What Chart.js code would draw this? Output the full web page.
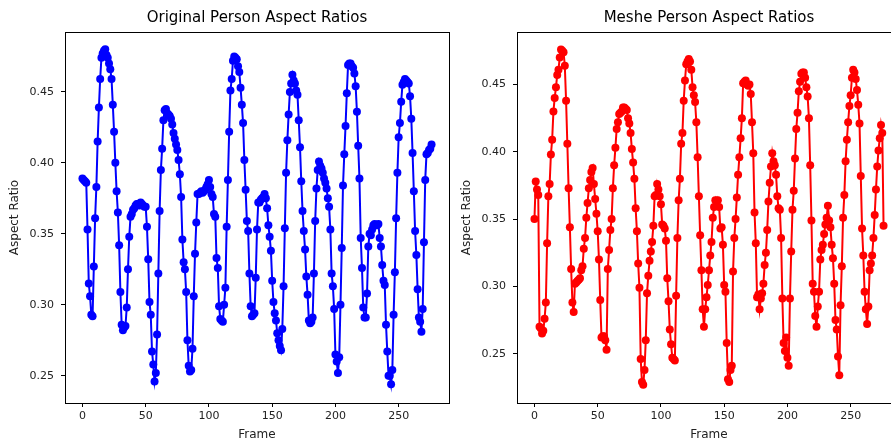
<!DOCTYPE html>
<html>
<head>
<meta charset="utf-8">
<script src="https://cdn.jsdelivr.net/npm/chart.js@4.4.1/dist/chart.umd.min.js"></script>
<style>
  html, body { margin: 0; padding: 0; background: #fff; }
  body { width: 891px; height: 445px; overflow: hidden; position: relative; }
  canvas { position: absolute; top: 0; }
  #left { left: 0; }
  #right { left: 452px; }
</style>
</head>
<body>
<canvas id="left" width="460" height="445"></canvas>
<canvas id="right" width="460" height="445"></canvas>
<script>
// data
const originalRatios = [
  .389,.388,.387,.386,.353,.315,.306,.293,.292,.327,
  .361,.383,.415,.439,.459,.474,.477,.479,.480,.476,
  .474,.470,.466,.459,.441,.422,.400,.380,.365,.342,
  .309,.286,.282,.284,.285,.298,.325,.348,.362,.364,
  .367,.368,.370,.371,.371,.370,.372,.371,.370,.369,
  .369,.355,.332,.302,.293,.267,.258,.246,.252,.279,
  .322,.366,.395,.410,.430,.437,.438,
  .435,.434,.433,.431,.427,.421,.417,.413,.409,.402,
  .392,.376,.346,.330,.325,.309,.275,.257,.253,.254,
  .269,.306,.336,.358,.378,.378,.379,.380,.379,.380,.381,
  .383,.385,.388,.383,.378,.376,.364,.362,.333,.326,
  .299,.290,.289,.288,.300,.312,.355,.388,.422,.451,
  .459,.472,.475,.474,.473,.468,.464,.453,.441,.428,
  .402,.381,.359,.352,.322,.299,.292,.293,.294,.319,
  .353,.372,.372,.374,.375,.376,.378,.375,.368,.356,.348,
  .338,.317,.302,.294,.289,.280,.275,.271,.268,.283,
  .313,.354,.393,.416,.434,.450,.456,.462,.458,.456,
  .451,.448,.430,.411,.387,.366,.352,.339,.320,.307,
  .289,.287,.288,.291,.322,.359,.382,.395,.401,.398,
  .396,.393,.389,.386,.382,.375,.369,.353,.322,.313,
  .297,.265,.260,.252,.263,.300,.340,.384,.406,.426,
  .449,.469,.470,.470,.468,.467,.463,.454,.436,.412,
  .389,.347,.326,.298,.291,.291,.308,.341,.350,.349,
  .353,.356,.357,.356,.356,.357,.347,.341,.328,.317,.314,
  .286,.267,.250,.250,.244,.254,.293,.323,.361,.393,
  .418,.428,.443,.455,.457,.459,.458,.457,.456,.447,
  .431,.407,.380,.352,.335,.311,.291,.288,.281,.297,
  .344,.388,.406,.407,.409,.410,.413
];

const mesheRatios = [
  .350,.378,.372,.368,.270,.269,.265,.267,.276,.288,
  .332,.367,.376,.398,.409,.430,.440,.448,.457,.461,
  .470,.476,.475,.474,.464,.438,.406,.373,.344,.313,
  .288,.281,.302,.303,.304,.305,.306,.312,.315,.328,
  .336,.351,.362,.373,.379,.385,.388,.376,.365,.354,
  .341,.320,.290,.262,.263,.263,.260,.253,.313,.327,
  .342,.350,.373,.390,.403,.417,.422,.428,.429,.430,
  .433,.433,.432,.431,.425,.421,.414,.402,.392,.380,
  .358,.341,.317,.299,.246,.229,.227,.238,.260,.295,
  .308,.319,.326,.333,.345,.367,.368,.376,.372,.367,
  .361,.346,.345,.343,.334,.306,.289,.268,.257,.247,
  .246,.245,.293,.336,.364,.380,.406,.414,.438,.453,
  .465,.467,.469,.467,.461,.448,.442,.437,.422,.396,
  .367,.338,.312,.283,.270,.283,.292,.301,.312,.323,
  .333,.351,.359,.364,.360,.364,.359,.343,.344,.331,
  .301,.296,.258,.231,.229,.238,.241,.311,.336,.350,
  .366,.383,.396,.410,.425,.451,.452,.453,.450,.449,
  .450,.443,.422,.399,.355,.332,.292,.294,.283,.291,
  .295,.302,.316,.325,.342,.363,.377,.389,.399,.393,
  .390,.383,.367,.358,.357,.336,.291,.258,.252,.262,
  .247,.241,.291,.326,.357,.371,.395,.417,.429,.445,
  .452,.458,.459,.459,.455,.448,.441,.425,.390,.349,
  .302,.296,.278,.270,.285,.296,.320,.327,.331,.339,
  .346,.351,.360,.349,.344,.331,.321,.302,.275,.268,
  .248,.234,.286,.315,.351,.368,.393,.409,.422,.434,
  .442,.455,.461,.459,.454,.446,.435,.421,.382,.343,
  .323,.296,.283,.272,.285,.312,.317,.323,.336,.353,
  .372,.389,.401,.410,.420,.414,.345
];

const frameTicks = [0, 50, 100, 150, 200, 250];
const ratioTicks = [0.25, 0.30, 0.35, 0.40, 0.45];

const FONT = "'DejaVu Sans', sans-serif";

// matplotlib style: box around the axes, title centred over the axes
const boxPlugin = {
  id: 'box',
  afterDraw(chart) {
    const { ctx, chartArea: a } = chart;
    ctx.save();
    ctx.strokeStyle = '#000';
    ctx.lineWidth = 1;
    ctx.strokeRect(Math.round(a.left) + 0.5, Math.round(a.top) + 0.5,
      Math.round(a.right - a.left), Math.round(a.bottom - a.top));
    ctx.fillStyle = '#000';
    ctx.font = '15px ' + FONT;
    ctx.textAlign = 'center';
    ctx.textBaseline = 'middle';
    ctx.fillText(chart.options.plugins.box.text, (a.left + a.right) / 2, 18);
    ctx.restore();
  }
};

function makeChart(id, title, values, color, yMin, yMax) {
  const points = values.map((v, i) => ({ x: i, y: v }));
  return new Chart(document.getElementById(id), {
    type: 'line',
    data: {
      datasets: [{
        data: points,
        borderColor: color,
        backgroundColor: color,
        pointBackgroundColor: color,
        pointBorderWidth: 0,
        pointRadius: 4,
        borderWidth: 2,
        tension: 0,
        fill: false
      }]
    },
    options: {
      responsive: false,
      animation: false,
      devicePixelRatio: 1,
      layout: { padding: { left: 0, right: 11, top: 32, bottom: 0 } },
      plugins: {
        legend: { display: false },
        tooltip: { enabled: false },
        box: { text: title }
      },
      scales: {
        x: {
          type: 'linear',
          min: -13.8,
          max: 289.8,
          afterBuildTicks: s => { s.ticks = frameTicks.map(v => ({ value: v })); },
          afterFit: s => { s.height = 42; },
          grid: { drawOnChartArea: false, drawTicks: true, tickLength: 4, color: '#000' },
          border: { display: true, color: '#000' },
          ticks: { color: '#222', padding: 3, maxRotation: 0, font: { family: FONT, size: 11 } },
          title: { display: true, text: 'Frame', color: '#222', font: { family: FONT, size: 12 }, padding: { top: 0, bottom: 3 } }
        },
        y: {
          min: yMin,
          max: yMax,
          afterBuildTicks: s => { s.ticks = ratioTicks.map(v => ({ value: v })); },
          afterFit: s => { s.width = 65; },
          grid: { drawOnChartArea: false, drawTicks: true, tickLength: 4, color: '#000' },
          border: { display: true, color: '#000' },
          ticks: { color: '#222', padding: 7, font: { family: FONT, size: 11 },
            callback: v => v.toFixed(2) },
          title: { display: true, text: 'Aspect Ratio', color: '#222', font: { family: FONT, size: 12 }, padding: { top: 8, bottom: 0 } }
        }
      }
    },
    plugins: [boxPlugin]
  });
}

makeChart('left', 'Original Person Aspect Ratios', originalRatios, '#0000ff', 0.2308, 0.4922);
makeChart('right', 'Meshe Person Aspect Ratios', mesheRatios, '#ff0000', 0.2134, 0.489);
</script>
</body>
</html>
